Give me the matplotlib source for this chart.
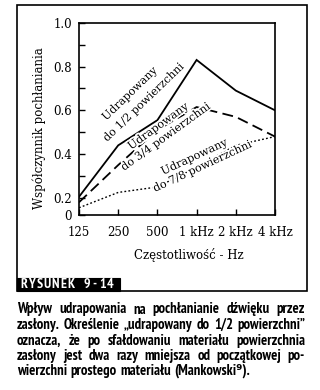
import numpy as np
import matplotlib
matplotlib.use("Agg")
import matplotlib.pyplot as plt
import matplotlib.patheffects as pe
from matplotlib.patches import Rectangle
from matplotlib import font_manager

# Data
freqs = ["125", "250", "500", "1 kHz", "2 kHz", "4 kHz"]
half_drape = [0.205, 0.44, 0.555, 0.83, 0.69, 0.60]
three_quarter_drape = [0.18, 0.35, 0.51, 0.615, 0.57, 0.48]
seven_eighths_drape = [0.155, 0.225, 0.25, 0.34, 0.44, 0.48]

# y axis is cut: the "0" label sits at the bottom of a shortened axis
ytick_vals = [0.122, 0.2, 0.4, 0.6, 0.8, 1.0]
ytick_labels = ["0", "0.2", "0.4", "0.6", "0.8", "1.0"]
yminor_vals = [0.3, 0.5, 0.7, 0.9]

curve_labels = [
    ("Udrapowany", "do 1/2 powierzchni"),
    ("Udrapowany", "do 3/4 powierzchni"),
    ("Udrapowany", "do 7/8 powierzchni"),
]

caption_lines = [
    "Wpływ udrapowania na pochłanianie dźwięku przez",
    "zasłony. Określenie „udrapowany do 1/2 powierzchni”",
    "oznacza, że po sfałdowaniu materiału powierzchnia",
    "zasłony jest dwa razy mniejsza od początkowej po-",
    "wierzchni prostego materiału (Mankowski⁹).",
]

W, H = 320, 390
SERIF = "DejaVu Serif"

# pick a condensed sans for the caption if one is around
installed = {f.name for f in font_manager.fontManager.ttflist}
narrow_choices = ["PT Sans Narrow", "Fira Sans Condensed", "Roboto Condensed",
                  "Open Sans Condensed", "IBM Plex Sans Condensed", "Asap Condensed",
                  "Archivo Narrow", "Encode Sans Condensed", "Liberation Sans Narrow"]
narrow = [n for n in narrow_choices if n in installed]
if narrow:
    CAPTION_FONT = [narrow[0], "DejaVu Sans"]
    CAPTION_STRETCH = "normal"
else:
    CAPTION_FONT = ["DejaVu Sans"]
    CAPTION_STRETCH = "condensed"


def fx(px):
    return px / W


def fy(py):
    return 1 - py / H


fig = plt.figure(figsize=(W / 100, H / 100), dpi=100)
fig.patch.set_facecolor("white")

# outer frame and the black figure tag
fig.patches.append(Rectangle((fx(17), fy(291)), fx(307) - fx(17), fy(5) - fy(291),
                             transform=fig.transFigure, fill=False, lw=1.2, ec="black"))
fig.patches.append(Rectangle((fx(17), fy(291)), fx(120) - fx(17), fy(277.5) - fy(291),
                             transform=fig.transFigure, fc="black", ec="black", lw=0.8))
tag = "RYSUNEK 9-14"
for i, ch in enumerate(tag):
    fig.text(fx(23.5 + i * 7.9), fy(284.5), ch, color="white", ha="center", va="center",
             fontsize=10, fontweight="bold", family=CAPTION_FONT,
             fontstretch=CAPTION_STRETCH)

ax = fig.add_axes([fx(79), fy(215), fx(275) - fx(79), fy(22.7) - fy(215)])
x = np.arange(len(freqs))

ax.plot(x, half_drape, color="black", lw=1.3, solid_joinstyle="miter")
ax.plot(x, three_quarter_drape, color="black", lw=1.3, dashes=(6, 3))
ax.plot(x, seven_eighths_drape, color="black", lw=1.0, dashes=(1.3, 1.6))

ax.set_xlim(0, len(freqs) - 1)
ax.set_ylim(ytick_vals[0], 1.0)
ax.set_xticks(x)
ax.set_xticklabels(freqs, family=SERIF, fontsize=8.5)
ax.set_yticks(ytick_vals)
ax.set_yticklabels(ytick_labels, family=SERIF, fontsize=8.5)
ax.set_yticks(yminor_vals, minor=True)
ax.tick_params(axis="both", which="both", direction="in", length=4, width=1.0)
ax.tick_params(axis="x", pad=8)
ax.tick_params(axis="y", pad=5)
for s in ax.spines.values():
    s.set_linewidth(1.2)

ax.set_xlabel("Częstotliwość - Hz", family=SERIF, fontsize=8.5, va="center")
ax.xaxis.set_label_coords((189 - 79) / 196, (215 - 255) / 192.3)
ax.set_ylabel("Współczynnik pochłaniania", family=SERIF, fontsize=8.5, va="center")
ax.yaxis.set_label_coords((39 - 79) / 196, (215 - 128) / 192.3)

# rotated labels on the curves: (line1 start, line2 start, angle) in pixels
label_layout = [
    ((106, 121), (107, 142), 44),
    ((131, 150), (124, 171), 36),
    ((163, 175), (155, 192), 25),
]
halo = [pe.withStroke(linewidth=2.5, foreground="white")]
for (l1, l2), (p1, p2, rot) in zip(curve_labels, label_layout):
    for txt, p in ((l1, p1), (l2, p2)):
        fig.text(fx(p[0]), fy(p[1]), txt, rotation=rot, rotation_mode="anchor",
                 ha="left", va="baseline", family=SERIF, fontsize=8,
                 path_effects=halo)

# justified caption below the frame; font size chosen so the tightest
# justified line fills the column with ordinary word spacing
renderer = fig.canvas.get_renderer()
x0, x1 = 17, 305
cap_kw = dict(fontweight="bold", family=CAPTION_FONT, fontstretch=CAPTION_STRETCH)
size0 = 10.0
widest = 0
for line in caption_lines[:-1]:
    probe = fig.text(0, 0, line, fontsize=size0, **cap_kw)
    widest = max(widest, probe.get_window_extent(renderer).width)
    probe.remove()
cap_size = min(10.5, size0 * (x1 - x0) / widest)

baselines = [313.5, 329, 344.8, 360.2, 374.8]
for k, (line, yb) in enumerate(zip(caption_lines, baselines)):
    words = line.split(" ")
    arts = [fig.text(0, fy(yb), w, ha="left", va="baseline", fontsize=cap_size, **cap_kw)
            for w in words]
    widths = [a.get_window_extent(renderer).width for a in arts]
    if k == len(caption_lines) - 1:
        gap = 0.24 * cap_size * 100 / 72
    else:
        gap = ((x1 - x0) - sum(widths)) / (len(words) - 1)
    xp = x0
    for a, w in zip(arts, widths):
        a.set_x(fx(xp))
        xp += w + gap

fig.savefig("out.png", dpi=100)
